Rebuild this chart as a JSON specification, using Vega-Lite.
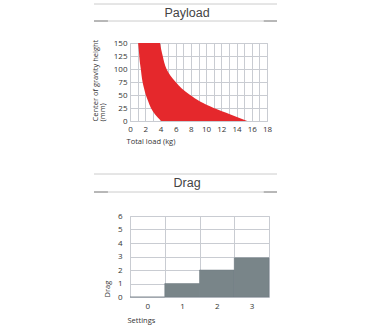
{
  "$schema": "https://vega.github.io/schema/vega-lite/v6.json",
  "padding": {"left": 90, "top": 3, "right": 5, "bottom": 2},
  "background": "white",
  "spacing": 28,
  "vconcat": [
    {
      "spacing": 16,
      "vconcat": [
        {
          "data": {"name": "h1"},
          "width": 147,
          "height": 17,
          "view": {"stroke": null},
          "layer": [
            {"mark": {"type": "rule", "color": "#cccccc", "strokeWidth": 1}, "encoding": {"y": {"datum": 0, "type": "quantitative", "scale": {"domain": [0, 1]}, "axis": null}, "x": {"datum": -0.245, "type": "quantitative", "scale": {"domain": [0, 1]}, "axis": null}, "x2": {"datum": 1}}},
            {"mark": {"type": "rule", "color": "#cccccc", "strokeWidth": 1}, "encoding": {"y": {"datum": 1, "type": "quantitative"}, "x": {"datum": -0.245, "type": "quantitative"}, "x2": {"datum": 1}}},
            {"mark": {"type": "rule", "color": "#8a8a8a", "strokeWidth": 1}, "encoding": {"y": {"datum": 0, "type": "quantitative"}, "x": {"datum": -0.245, "type": "quantitative"}, "x2": {"datum": -0.15}}},
            {"mark": {"type": "rule", "color": "#8a8a8a", "strokeWidth": 1}, "encoding": {"y": {"datum": 0, "type": "quantitative"}, "x": {"datum": 0.91, "type": "quantitative"}, "x2": {"datum": 1}}},
            {"mark": {"type": "text", "font": "Liberation Sans", "fontSize": 12.5, "color": "#444444", "baseline": "middle", "align": "center"},
             "encoding": {"text": {"field": "label"}, "y": {"datum": 0.5, "type": "quantitative"}, "x": {"datum": 0.388, "type": "quantitative"}}}
          ]
        },
        {
          "data": {"name": "payload"},
          "width": 137,
          "height": 78,
          "mark": {"type": "area", "orient": "horizontal", "interpolate": "monotone", "color": "#e5282c", "opacity": 1},
          "encoding": {
            "y": {"field": "height", "type": "quantitative", "scale": {"domain": [0, 150], "nice": false},
                  "axis": {"values": [0, 25, 50, 75, 100, 125, 150], "title": ["Center of gravity height", "(mm)"], "titleAnchor": "start", "titleAlign": "left", "titleLineHeight": 7, "labelPadding": 3, "titlePadding": 7}},
            "x": {"field": "left", "type": "quantitative", "scale": {"domain": [0, 18], "nice": false},
                  "axis": {"values": [0,1,2,3,4,5,6,7,8,9,10,11,12,13,14,15,16,17,18], "labelExpr": "datum.value % 2 ? '' : datum.label", "title": "Total load (kg)", "titleAnchor": "start", "titleAlign": "left", "titleX": -4, "labelPadding": 4, "titlePadding": 4, "labelFlush": false}},
            "x2": {"field": "right"}
          }
        }
      ]
    },
    {
      "spacing": 18,
      "vconcat": [
        {
          "data": {"name": "h2"},
          "width": 147,
          "height": 18,
          "view": {"stroke": null},
          "layer": [
            {"mark": {"type": "rule", "color": "#cccccc", "strokeWidth": 1}, "encoding": {"y": {"datum": 0, "type": "quantitative", "scale": {"domain": [0, 1]}, "axis": null}, "x": {"datum": -0.245, "type": "quantitative", "scale": {"domain": [0, 1]}, "axis": null}, "x2": {"datum": 1}}},
            {"mark": {"type": "rule", "color": "#cccccc", "strokeWidth": 1}, "encoding": {"y": {"datum": 1, "type": "quantitative"}, "x": {"datum": -0.245, "type": "quantitative"}, "x2": {"datum": 1}}},
            {"mark": {"type": "rule", "color": "#8a8a8a", "strokeWidth": 1}, "encoding": {"y": {"datum": 0, "type": "quantitative"}, "x": {"datum": -0.245, "type": "quantitative"}, "x2": {"datum": -0.15}}},
            {"mark": {"type": "rule", "color": "#8a8a8a", "strokeWidth": 1}, "encoding": {"y": {"datum": 0, "type": "quantitative"}, "x": {"datum": 0.91, "type": "quantitative"}, "x2": {"datum": 1}}},
            {"mark": {"type": "text", "font": "Liberation Sans", "fontSize": 12.5, "color": "#444444", "baseline": "middle", "align": "center"},
             "encoding": {"text": {"field": "label"}, "y": {"datum": 0.5, "type": "quantitative"}, "x": {"datum": 0.388, "type": "quantitative"}}}
          ]
        },
        {
          "data": {"name": "drag"},
          "width": 139,
          "height": 81,
          "mark": {"type": "bar", "color": "#798589", "stroke": "#6f7b80", "strokeWidth": 0.5},
          "encoding": {
            "x": {"field": "setting", "type": "ordinal", "scale": {"paddingInner": 0, "paddingOuter": 0},
                  "axis": {"labelAngle": 0, "tickBand": "extent", "title": "Settings", "titleAnchor": "start", "titleAlign": "left", "titleX": -3, "labelPadding": 5, "titlePadding": 6}},
            "y": {"field": "drag", "type": "quantitative", "scale": {"domain": [0, 6], "nice": false},
                  "axis": {"values": [0, 1, 2, 3, 4, 5, 6], "title": "Drag", "titleAnchor": "start", "titleAlign": "left", "labelPadding": 8, "titlePadding": 6}}
          }
        }
      ]
    }
  ],
  "datasets": {
    "payload": [
      {"height": 150, "left": 1.07, "right": 3.95},
      {"height": 137.5, "left": 1.15, "right": 4.1},
      {"height": 125, "left": 1.22, "right": 4.3},
      {"height": 112.5, "left": 1.3, "right": 4.5},
      {"height": 100, "left": 1.42, "right": 4.8},
      {"height": 87.5, "left": 1.52, "right": 5.3},
      {"height": 75, "left": 1.65, "right": 6.0},
      {"height": 62.5, "left": 1.85, "right": 6.8},
      {"height": 50, "left": 2.08, "right": 7.9},
      {"height": 37.5, "left": 2.4, "right": 9.2},
      {"height": 25, "left": 2.75, "right": 11.0},
      {"height": 12.5, "left": 3.3, "right": 13.2},
      {"height": 0, "left": 4.1, "right": 15.4}
    ],
    "drag": [
      {"setting": "0", "drag": 0},
      {"setting": "1", "drag": 1},
      {"setting": "2", "drag": 2},
      {"setting": "3", "drag": 2.9}
    ],
    "h1": [{"label": "Payload"}],
    "h2": [{"label": "Drag"}]
  },
  "config": {
    "font": "Open Sans",
    "axis": {
      "domain": false,
      "ticks": false,
      "grid": true,
      "gridColor": "#c9ccd2",
      "gridWidth": 1,
      "labelFont": "Open Sans",
      "labelFontSize": 8,
      "labelColor": "#333333",
      "titleFont": "Open Sans",
      "titleFontSize": 7.5,
      "titleFontWeight": "normal",
      "titleColor": "#333333"
    },
    "view": {"stroke": "#c9ccd2"}
  }
}
